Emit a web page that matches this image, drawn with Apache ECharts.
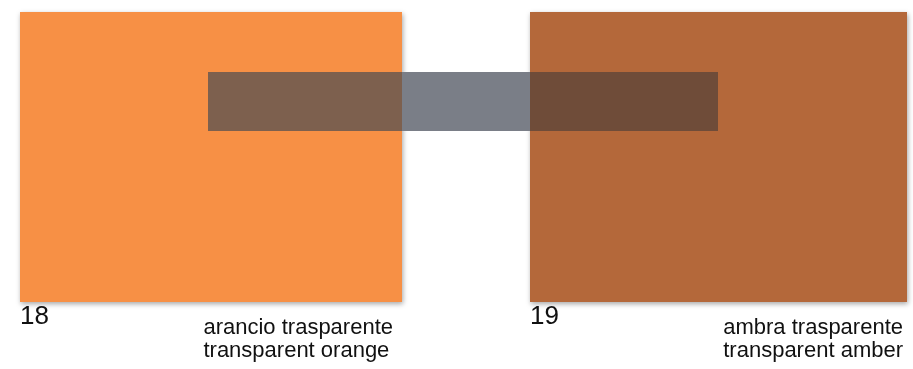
<!DOCTYPE html>
<html>
<head>
<meta charset="utf-8">
<script src="https://cdn.jsdelivr.net/npm/echarts@6/dist/echarts.min.js"></script>
<style>html,body{margin:0;padding:0;background:#fff}#c{width:913px;height:369px}</style>
</head>
<body>
<div id="c"></div>
<script>
// Swatch data
var swatchNumbers = ['18', '19'];
var swatchNamesIt = ['arancio trasparente', 'ambra trasparente'];
var swatchNamesEn = ['transparent orange', 'transparent amber'];
var swatchColors = ['#F79045', '#B4683A'];
var overlapColors = ['#7D604E', '#6F4C39'];
var barColor = '#7A7E87';

// layout (pixel space of the 913x369 canvas)
var swatchX = [[20, 402], [530, 907]];
var swatchY = [12, 302];
var barX = [208, 718];
var barY = [72, 131];

var rects = [];
swatchNumbers.forEach(function (n, i) {
  rects.push({ value: [swatchX[i][0], swatchY[0], swatchX[i][1], swatchY[1]], itemStyle: { color: swatchColors[i] }, shadow: true });
});
// gray bar: middle segment plus overlap segments
rects.push({ value: [swatchX[0][1], barY[0], swatchX[1][0], barY[1]], itemStyle: { color: barColor } });
rects.push({ value: [barX[0], barY[0], swatchX[0][1], barY[1]], itemStyle: { color: overlapColors[0] } });
rects.push({ value: [swatchX[1][0], barY[0], barX[1], barY[1]], itemStyle: { color: overlapColors[1] } });

var chart = echarts.init(document.getElementById('c'), null, { renderer: 'canvas' });

var graphics = [];
swatchNumbers.forEach(function (n, i) {
  graphics.push({ type: 'text', left: swatchX[i][0], top: 304, style: { text: n, font: '26px "Liberation Sans", Arial, sans-serif', fill: '#111' } });
  graphics.push({ type: 'text', right: 913 - swatchX[i][1] + (i === 0 ? 9 : 4), top: 316,
    style: { text: swatchNamesIt[i] + '\n' + swatchNamesEn[i], font: '22px "Liberation Sans", Arial, sans-serif', fill: '#111', align: 'right', lineHeight: 23 } });
});

chart.setOption({
  animation: false,
  backgroundColor: '#fff',
  grid: { left: 0, right: 0, top: 0, bottom: 0 },
  xAxis: { type: 'value', min: 0, max: 913, show: false },
  yAxis: { type: 'value', min: 0, max: 369, inverse: true, show: false },
  series: [{
    type: 'custom',
    data: rects,
    renderItem: function (params, api) {
      var p0 = api.coord([api.value(0), api.value(1)]);
      var p1 = api.coord([api.value(2), api.value(3)]);
      var d = rects[params.dataIndex];
      return {
        type: 'rect',
        shape: { x: p0[0], y: p0[1], width: p1[0] - p0[0], height: p1[1] - p0[1] },
        style: {
          fill: d.itemStyle.color,
          shadowBlur: d.shadow ? 5 : 0,
          shadowColor: 'rgba(0,0,0,0.35)',
          shadowOffsetX: d.shadow ? 1 : 0,
          shadowOffsetY: d.shadow ? 2 : 0
        }
      };
    }
  }],
  graphic: graphics
});
</script>
</body>
</html>
